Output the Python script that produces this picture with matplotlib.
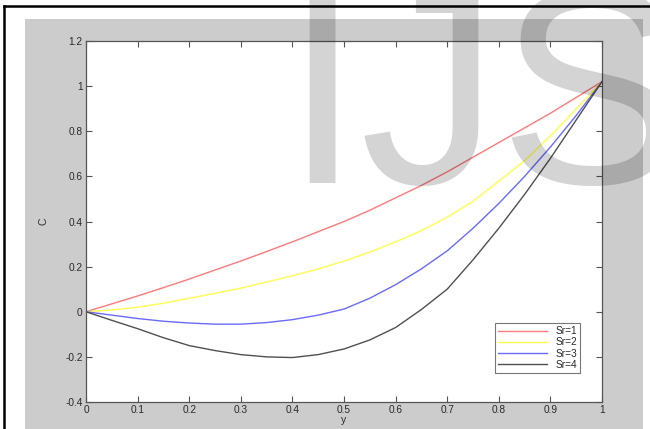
import numpy as np
import matplotlib
matplotlib.use('Agg')
from matplotlib import pyplot as plt
from matplotlib.patches import Rectangle
from matplotlib.lines import Line2D

plt.rcParams['font.family'] = ['Liberation Sans', 'DejaVu Sans']

# data
y = [0.0, 0.05, 0.1, 0.15, 0.2, 0.25, 0.3, 0.35, 0.4, 0.45, 0.5,
     0.55, 0.6, 0.65, 0.7, 0.75, 0.8, 0.85, 0.9, 0.95, 1.0]
c_sr1 = [0, 0.035, 0.07, 0.107, 0.145, 0.185, 0.225, 0.267, 0.31, 0.355, 0.40,
         0.45, 0.505, 0.56, 0.62, 0.685, 0.75, 0.815, 0.88, 0.95, 1.02]
c_sr2 = [0, 0.008, 0.02, 0.038, 0.06, 0.082, 0.105, 0.132, 0.16, 0.19, 0.225,
         0.265, 0.31, 0.36, 0.42, 0.49, 0.58, 0.67, 0.78, 0.9, 1.02]
c_sr3 = [0, -0.015, -0.03, -0.042, -0.05, -0.055, -0.055, -0.048, -0.035, -0.015, 0.012,
         0.06, 0.12, 0.19, 0.27, 0.37, 0.48, 0.6, 0.73, 0.87, 1.02]
c_sr4 = [0, -0.038, -0.075, -0.115, -0.15, -0.172, -0.19, -0.2, -0.203, -0.19, -0.165,
         -0.125, -0.07, 0.01, 0.1, 0.23, 0.37, 0.52, 0.68, 0.85, 1.02]
labels = ['Sr=1', 'Sr=2', 'Sr=3', 'Sr=4']
colors = ['#ff7a7a', '#ffff50', '#6a6aff', '#505050']

W, H = 650, 429
fig = plt.figure(figsize=(6.5, 4.29), dpi=100, facecolor='white')

# gray matlab window background + screenshot frame
fig.add_artist(Rectangle((25 / W, 0), (643 - 25) / W, (H - 19) / H,
                         transform=fig.transFigure, facecolor='#cccccc',
                         edgecolor='none', zorder=-10))
fig.add_artist(Line2D([4 / W, 1], [1 - 6 / H, 1 - 6 / H], transform=fig.transFigure,
                      color='black', lw=1.8))
fig.add_artist(Line2D([4 / W, 4 / W], [0, 1 - 6 / H], transform=fig.transFigure,
                      color='black', lw=1.8))

ax = fig.add_axes([86 / W, 1 - 402 / H, (602 - 86) / W, (402 - 41) / H])
for vals, lab, col in zip([c_sr1, c_sr2, c_sr3, c_sr4], labels, colors):
    ax.plot(y, vals, color=col, lw=1.0, label=lab)

ax.set_xlim(0, 1)
ax.set_ylim(-0.4, 1.2)
ax.set_xticks(np.arange(0, 1.01, 0.1))
ax.set_xticklabels(['0', '0.1', '0.2', '0.3', '0.4', '0.5', '0.6', '0.7', '0.8', '0.9', '1'])
ax.set_yticks(np.arange(-0.4, 1.21, 0.2))
ax.set_yticklabels(['-0.4', '-0.2', '0', '0.2', '0.4', '0.6', '0.8', '1', '1.2'])
ax.tick_params(direction='in', length=4, width=0.8, color='#555555',
               labelsize=7.3, labelcolor='#2a2a2a', top=True, right=True, pad=2.5)
for s in ax.spines.values():
    s.set_color('#555555')
    s.set_linewidth(0.9)
ax.set_xlabel('y', fontsize=7.5, color='#2a2a2a', labelpad=0)
ax.set_ylabel('C', fontsize=7.5, color='#2a2a2a', labelpad=12)

leg = ax.legend(loc='lower right', fontsize=7.3, frameon=True, fancybox=False,
                edgecolor='#555555', handlelength=4.8, borderpad=0.35,
                labelspacing=0.12, bbox_to_anchor=(0.968, 0.065))
leg.get_frame().set_linewidth(0.8)
for t in leg.get_texts():
    t.set_color('#2a2a2a')

# watermark
fig.text(283 / W, 1 - 183 / H, 'IJSER', fontsize=200, color='black', alpha=0.17,
         ha='left', va='baseline', zorder=20)

fig.savefig('out.png', dpi=100)
